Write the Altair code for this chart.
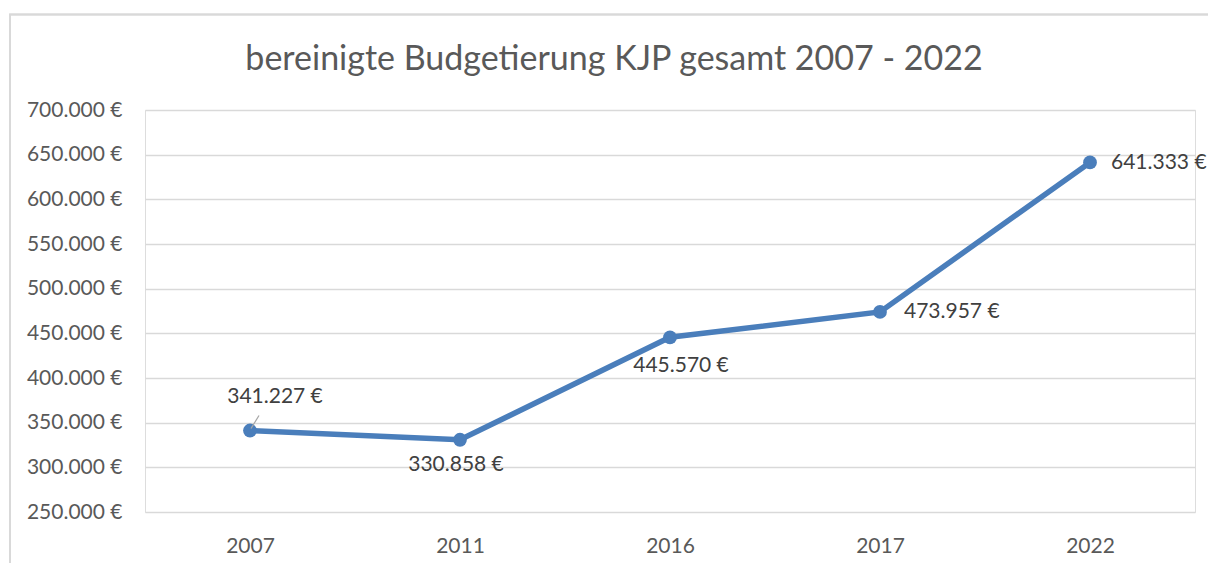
import altair as alt
import pandas as pd

years = ["2007", "2011", "2016", "2017", "2022"]
values = [341227, 330858, 445570, 473957, 641333]
title_text = "bereinigte Budgetierung KJP gesamt 2007 - 2022"

df = pd.DataFrame({"year": years, "value": values})

FONT = "Lato"
BLUE = "#4a7ebb"
GRID = "#d9d9d9"
TXT = "#595959"
FS = 21

W, H = 1050, 402
PL, PT = 145, 110

fmt = "replace(format(datum.value, ',.0f'), ',', '.') + ' €'"

x = alt.X("year:N", sort=years, scale=alt.Scale(type="point", padding=0.5),
          axis=alt.Axis(title=None, labelAngle=0, ticks=False, domain=False, grid=False,
                        labelFont=FONT, labelFontSize=FS, labelColor=TXT, labelPadding=23))
y = alt.Y("value:Q", scale=alt.Scale(domain=[250000, 700000], nice=False, zero=False),
          axis=alt.Axis(title=None, values=list(range(250000, 700001, 50000)),
                        ticks=False, domain=False, gridColor=GRID, gridWidth=1.5,
                        labelFont=FONT, labelFontSize=FS, labelColor=TXT, labelPadding=23,
                        labelExpr=fmt))

base = alt.Chart(df).encode(x=x, y=y)

border = alt.Chart(df).mark_rect(fill=None, stroke=GRID, strokeWidth=1.5, clip=False).encode(
    x=alt.value(10 - PL), x2=alt.value(1300 - PL),
    y=alt.value(14.5 - PT), y2=alt.value(700 - PT))

title = alt.Chart(df).transform_filter(alt.datum.year == years[0]).mark_text(
    text=title_text, font=FONT, fontSize=34, color=TXT, align="center", baseline="middle"
).encode(x=alt.value(614 - PL), y=alt.value(60 - PT))

line = base.mark_line(color=BLUE, strokeWidth=5.5)
pts = base.mark_circle(color=BLUE, size=190, opacity=1)

lab = base.transform_calculate(lbl=fmt)
txt_kw = dict(font=FONT, fontSize=FS, color="#404040")

def label(yr, dx, dy, align="center"):
    return lab.transform_filter(alt.datum.year == yr).mark_text(
        dx=dx, dy=dy, align=align, baseline="middle", **txt_kw).encode(text="lbl:N")

labels = [
    label("2007", 25, -34),
    label("2011", -4, 25),
    label("2016", 11, 29),
    label("2017", 24, 0, "left"),
    label("2022", 21, 1, "left"),
]

leader = base.transform_filter(alt.datum.year == "2007").mark_rule(
    color="#a6a6a6", strokeWidth=1.3, xOffset=1, x2Offset=9, yOffset=-2, y2Offset=-15).encode(
    x2="year:N", y2="value:Q")

chart = alt.layer(border, title, line, pts, leader, *labels).properties(
    width=W, height=H,
    padding={"left": PL, "top": PT, "right": 1208 - PL - W, "bottom": 563 - PT - H},
    autosize=alt.AutoSizeParams(type="none"),
).configure_view(stroke=None).configure(background="white")

chart.save("out.html", embed_options={"renderer": "svg", "actions": False})
